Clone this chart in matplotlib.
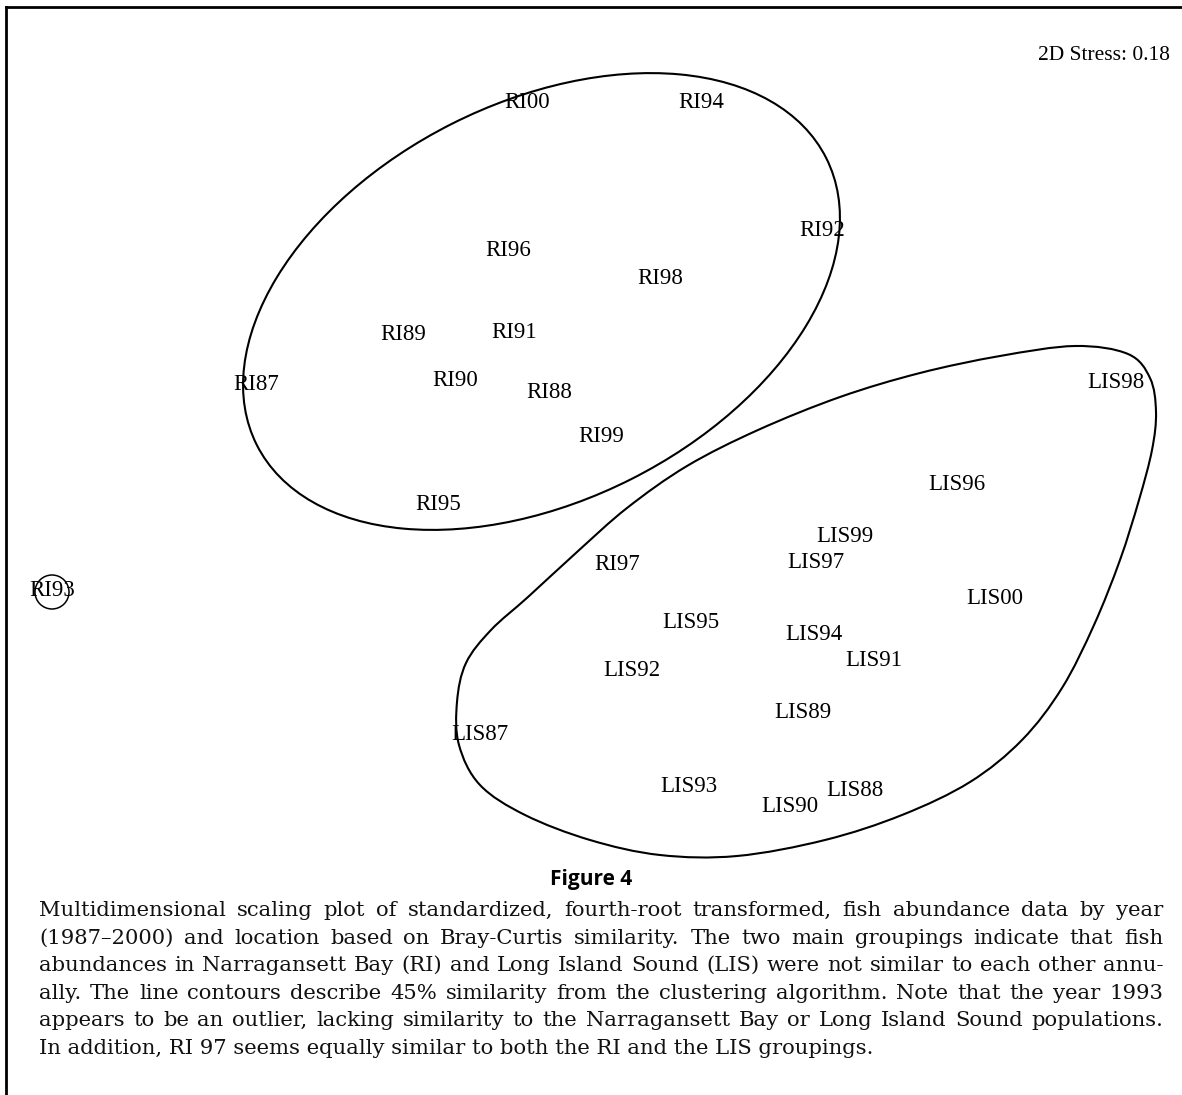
import numpy as np
import matplotlib
matplotlib.use("Agg")
import matplotlib.pyplot as plt
from matplotlib.patches import Ellipse, Circle, PathPatch
from matplotlib.path import Path
from matplotlib.lines import Line2D

# MDS configuration (plot units, y grows downward)
ri_names = ["RI00", "RI94", "RI92", "RI96", "RI98", "RI89", "RI91", "RI87",
            "RI90", "RI88", "RI99", "RI95", "RI93", "RI97"]
ri_x = [527, 701, 822, 508, 660, 403, 514, 256, 455, 549, 601, 438, 52, 617]
ri_y = [102, 102, 230, 250, 278, 334, 333, 384, 380, 392, 437, 505, 590, 565]

lis_names = ["LIS98", "LIS96", "LIS99", "LIS97", "LIS00", "LIS95", "LIS94",
             "LIS91", "LIS92", "LIS89", "LIS87", "LIS93", "LIS88", "LIS90"]
lis_x = [1116, 957, 845, 816, 995, 691, 814, 874, 632, 803, 480, 689, 855, 790]
lis_y = [383, 485, 536, 563, 599, 623, 634, 660, 670, 712, 735, 786, 791, 807]

stress = 0.18

# 45% similarity contours
ri_contour = dict(center=(541.5, 301.5), width=637.6, height=398.0, angle=-26.75)
ri93_contour = dict(center=(52, 592), radius=17)
lis_contour_x = [1000, 1075, 1128, 1150, 1156, 1152, 1139, 1120, 1094, 1062,
                 1022, 970, 902, 825, 737, 660, 590, 525, 480, 459,
                 457, 466, 491, 528, 577, 627, 687, 758, 840, 920]
lis_contour_y = [356, 346, 354, 378, 412, 450, 500, 560, 625, 688,
                 740, 782, 815, 840, 856, 855, 840, 815, 785, 745,
                 702, 663, 630, 597, 552, 508, 466, 430, 397, 373]

caption_title = "Figure 4"
caption_lines = [
    "Multidimensional scaling plot of standardized, fourth-root transformed, fish abundance data by year",
    "(1987\u20132000) and location based on Bray-Curtis similarity. The two main groupings indicate that fish",
    "abundances in Narragansett Bay (RI) and Long Island Sound (LIS) were not similar to each other annu-",
    "ally. The line contours describe 45% similarity from the clustering algorithm. Note that the year 1993",
    "appears to be an outlier, lacking similarity to the Narragansett Bay or Long Island Sound populations.",
    "In addition, RI 97 seems equally similar to both the RI and the LIS groupings.",
]


def closed_spline(xs, ys):
    # Catmull-Rom through the points, as cubic Bezier segments
    P = np.column_stack([xs, ys]).astype(float)
    n = len(P)
    verts = [P[0]]
    codes = [Path.MOVETO]
    for i in range(n):
        p0, p1, p2, p3 = P[i - 1], P[i], P[(i + 1) % n], P[(i + 2) % n]
        verts += [p1 + (p2 - p0) / 6, p2 - (p3 - p1) / 6, p2]
        codes += [Path.CURVE4] * 3
    return Path(verts, codes)


W, H = 1182, 1095
fig = plt.figure(figsize=(W / 100, H / 100), dpi=100)
ax = fig.add_axes([0, 0, 1, 1])
ax.set_xlim(0, W)
ax.set_ylim(H, 0)
ax.axis("off")

lw = 1.5
ax.add_patch(Ellipse(ri_contour["center"], ri_contour["width"], ri_contour["height"],
                     angle=ri_contour["angle"], fill=False, lw=lw, color="black"))
ax.add_patch(Circle(ri93_contour["center"], ri93_contour["radius"], fill=False,
                    lw=1.1, color="black"))
ax.add_patch(PathPatch(closed_spline(lis_contour_x, lis_contour_y), fill=False,
                       lw=lw, color="black"))

label_font = dict(family="Liberation Serif", fontsize=16.5, color="black",
                  ha="center", va="center")
for name, x, y in zip(ri_names + lis_names, ri_x + lis_x, ri_y + lis_y):
    ax.text(x, y, name, **label_font)

ax.text(1170, 55, f"2D Stress: {stress:.2f}", family="Liberation Serif",
        fontsize=15.5, ha="right", va="center")

# frame: top and left rules only
fig.add_artist(Line2D([6 / W, 1], [1 - 7 / H, 1 - 7 / H], color="black", lw=2))
fig.add_artist(Line2D([6 / W, 6 / W], [0, 1 - 7 / H], color="black", lw=2))

# caption
ax.text(591, 880, caption_title, family="Open Sans", fontweight="bold",
        fontsize=15, ha="center", va="center")

renderer = fig.canvas.get_renderer()
left, right = 39, 1163
cap_font = dict(family="DejaVu Serif", fontsize=15.2, color="#111111")
base_y = 916
line_gap = 27.6
for k, line in enumerate(caption_lines):
    y = base_y + k * line_gap
    words = line.split(" ")
    if k == len(caption_lines) - 1:
        ax.text(left, y, line, va="baseline", ha="left", **cap_font)
        continue
    texts = [ax.text(0, y, w, va="baseline", ha="left", **cap_font) for w in words]
    widths = [t.get_window_extent(renderer).width for t in texts]
    gap = (right - left - sum(widths)) / (len(words) - 1)
    x = left
    for t, w in zip(texts, widths):
        t.set_x(x)
        x += w + gap

fig.savefig("out.png", dpi=100)
